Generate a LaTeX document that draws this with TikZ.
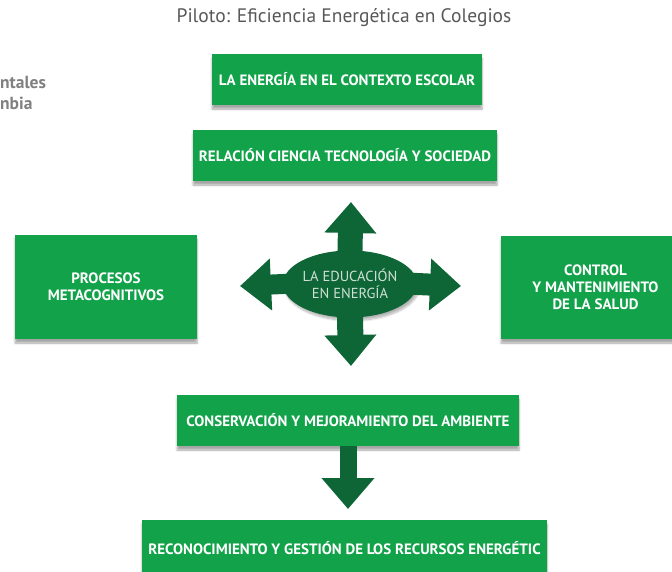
\documentclass[tikz,border=0pt]{standalone}
\usepackage{fontspec}
\setmainfont{PT Sans}
\usetikzlibrary{arrows.meta,shapes.geometric,shadows.blur}
\definecolor{hoja}{HTML}{12A24A}
\definecolor{pino}{HTML}{0E6637}
\definecolor{gris}{HTML}{585858}
\definecolor{bruma}{HTML}{CFE0D3}

\begin{document}
\begin{tikzpicture}[x=1pt,y=-1pt,
 caja/.style={fill=hoja,text=white,align=center,inner sep=0pt,
  font=\bfseries\fontsize{15}{17}\selectfont,
  blur shadow={shadow xshift=0pt,shadow yshift=-4pt,shadow opacity=35,shadow blur steps=6}},
 spoke/.style={pino,line width=#1,-{Triangle[length=31pt,width=50pt]}},
 bajada/.style={pino,line width=17pt,-{Triangle[length=31pt,width=51pt]}}]
\useasboundingbox (0,0) rectangle (672,571);
\clip (0,0) rectangle (672,571);
\node[gris,font=\fontsize{19.5}{22}\selectfont] (titulo) at (344,18)
 {Piloto: Eficiencia Energética en Colegios};
\node[anchor=west,inner sep=0pt,text=gray,font=\bfseries\fontsize{17.5}{20}\selectfont] (corte1) at (0,82) {ntales};
\node[anchor=west,inner sep=0pt,text=gray,font=\bfseries\fontsize{17.5}{20}\selectfont] (corte2) at (0,103) {nbia};

% Column of topics around the centre
\node[caja,minimum width=270pt,minimum height=51pt] (contexto) at (347,79.5)
 {LA ENERGÍA EN EL CONTEXTO ESCOLAR};
\node[caja,minimum width=304pt,minimum height=51pt] (cts) at (345,155.5)
 {RELACIÓN CIENCIA TECNOLOGÍA Y SOCIEDAD};
\node[caja,minimum width=182pt,minimum height=104pt] (meta) at (106,287)
 {PROCESOS\\METACOGNITIVOS};
\node[caja,minimum width=189pt,minimum height=103pt] (salud) at (595.5,287.5)
 {CONTROL\\Y MANTENIMIENTO\\DE LA SALUD};
\node[caja,minimum width=342pt,minimum height=51pt] (ambiente) at (348,420.5)
 {CONSERVACIÓN Y MEJORAMIENTO DEL AMBIENTE};
\node[caja,minimum width=405pt,minimum height=56pt] (recursos) at (344.5,548)
 {RECONOCIMIENTO Y GESTIÓN DE LOS RECURSOS ENERGÉTIC};

% Central ellipse with four block arrows
\node[ellipse,fill=pino,text=bruma,minimum width=105pt,minimum height=67pt,inner sep=0pt,
 align=center,font=\fontsize{14.5}{17}\selectfont,
 blur shadow={shadow xshift=2pt,shadow yshift=-3pt,shadow opacity=30,shadow blur steps=8}]
 (edu) at (350,284) {LA EDUCACIÓN\\EN ENERGÍA};
\coordinate (arriba) at (351,202);
\coordinate (abajo) at (351,366);
\coordinate (izq) at (240,286);
\coordinate (der) at (461,286);
\draw[spoke=25pt,shorten <=-4pt] (edu.north) -- (arriba);
\draw[spoke=26pt,shorten <=-4pt] (edu.south) -- (abajo);
\draw[spoke=20pt,shorten <=-5pt] (edu.west) -- (izq);
\draw[spoke=22pt,shorten <=-5pt] (edu.east) -- (der);

\coordinate (punta) at (348,509);
\draw[bajada] (ambiente.south) -- (punta);
\end{tikzpicture}
\end{document}
